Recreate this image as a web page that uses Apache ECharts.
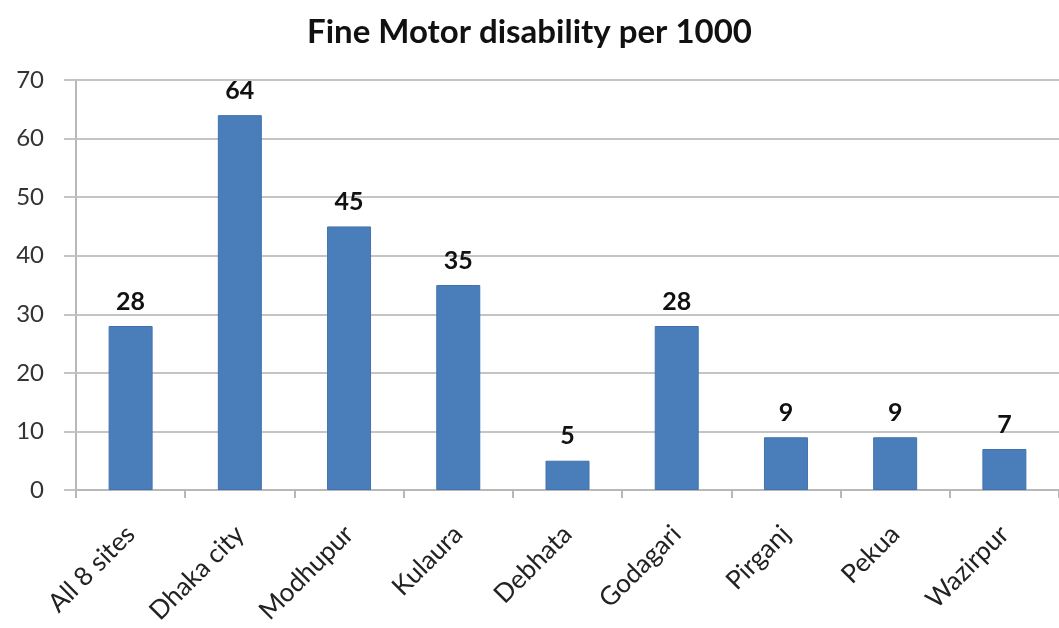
<!DOCTYPE html>
<html>
<head>
<meta charset="utf-8">
<script src="https://cdn.jsdelivr.net/npm/echarts@6/dist/echarts.min.js"></script>
<style>
  html, body { margin: 0; padding: 0; background: #fff; }
  #chart { width: 1059px; height: 628px; }
</style>
</head>
<body>
<div id="chart"></div>
<script>
// Sites surveyed and fine motor disability rate per 1000
const categories = ['All 8 sites', 'Dhaka city', 'Modhupur', 'Kulaura', 'Debhata', 'Godagari', 'Pirganj', 'Pekua', 'Wazirpur'];
const ratePer1000 = [28, 64, 45, 35, 5, 28, 9, 9, 7];
const yTicks = { min: 0, max: 70, interval: 10 };

const font = 'Lato, "Open Sans", sans-serif';
const chart = echarts.init(document.getElementById('chart'));
chart.setOption({
  animation: false,
  title: {
    text: 'Fine Motor disability per 1000',
    left: 'center',
    top: 11,
    textStyle: { fontFamily: font, fontSize: 33, fontWeight: 'bold', color: '#111' }
  },
  grid: { left: 76, right: -6, top: 80, bottom: 138, containLabel: false },
  xAxis: {
    type: 'category',
    data: categories,
    axisLine: { lineStyle: { color: '#b8b8b8', width: 2 } },
    axisTick: { show: true, length: 8, lineStyle: { color: '#b8b8b8', width: 2 } },
    axisLabel: { rotate: 45, fontFamily: font, fontSize: 26, color: '#222', margin: 40 }
  },
  yAxis: {
    type: 'value',
    min: yTicks.min,
    max: yTicks.max,
    interval: yTicks.interval,
    axisLine: { show: true, lineStyle: { color: '#b8b8b8', width: 2 } },
    axisTick: { show: true, length: 12, lineStyle: { color: '#c4c4c4', width: 2 } },
    splitLine: { lineStyle: { color: '#c4c4c4', width: 2 } },
    axisLabel: { fontFamily: font, fontSize: 24, color: '#333', margin: 32 }
  },
  series: [{
    type: 'bar',
    data: ratePer1000,
    barWidth: 44,
    itemStyle: { color: '#4a7ebb', borderColor: '#4272ad', borderWidth: 1 },
    label: {
      show: true,
      position: 'top',
      distance: 12,
      fontFamily: font,
      fontSize: 25,
      fontWeight: 'bold',
      color: '#111'
    }
  }]
});
</script>
</body>
</html>
